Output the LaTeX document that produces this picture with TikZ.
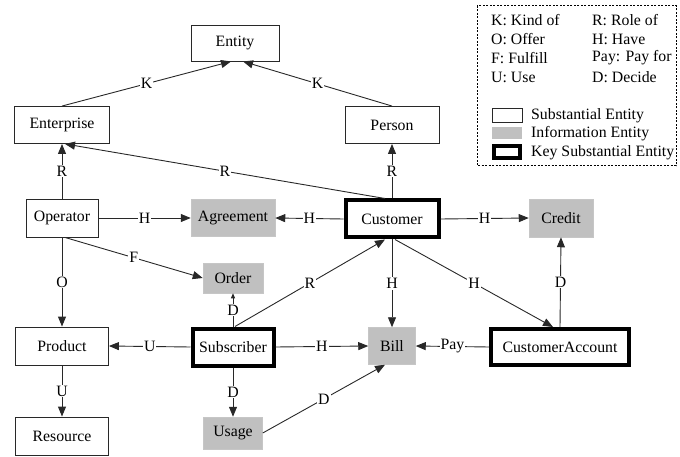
\documentclass[tikz,border=0pt]{standalone}
\usepackage{fontspec}
\setmainfont{Liberation Serif}
\usepackage{tikz}
\usetikzlibrary{arrows.meta, positioning, calc}
\usepackage{xcolor}
\definecolor{InfoGray}{RGB}{192,192,192}
\definecolor{LineGray}{RGB}{40,40,40}

\tikzset{
  ent/.style={draw=LineGray, fill=white, line width=0.9pt, inner sep=2pt},
  info/.style={draw=InfoGray!90, fill=InfoGray, line width=0.5pt, inner sep=2pt},
  keyent/.style={draw=black, fill=white, line width=4pt, inner sep=2pt},
  rel/.style={draw=LineGray, line width=0.9pt, -{Triangle[length=10pt,width=8pt]}},
  lbl/.style={fill=white, inner sep=1pt, midway}
}

\begin{document}
\begin{tikzpicture}[x=1pt, y=-1pt, font=\fontsize{15.8}{18}\selectfont]
  \useasboundingbox (0,0) rectangle (680,457);

  % entities
  \node[ent, minimum width=88pt, minimum height=36pt] (entity) at (235,43) {Entity};
  \node[ent, minimum width=95pt, minimum height=37pt] (entp) at (62,125) {Enterprise};
  \node[ent, minimum width=94pt, minimum height=37pt] (person) at (392,125) {Person};
  \node[ent, minimum width=72pt, minimum height=38pt] (oper) at (62,218) {Operator};
  \node[info, minimum width=84pt, minimum height=37pt] (agree) at (233,218) {Agreement};
  \node[info, minimum width=60pt, minimum height=30pt] (order) at (233,278) {Order};
  \node[keyent, minimum width=93pt, minimum height=37pt] (cust) at (392,219) {Customer};
  \node[info, minimum width=64pt, minimum height=38pt] (credit) at (561,218) {Credit};
  \node[ent, minimum width=93pt, minimum height=38pt] (prod) at (62,346) {Product};
  \node[keyent, minimum width=81pt, minimum height=37pt] (subs) at (233,347) {Subscriber};
  \node[info, minimum width=47pt, minimum height=37pt] (bill) at (392,346) {Bill};
  \node[keyent, minimum width=138pt, minimum height=36pt] (custacc) at (560,347) {CustomerAccount};
  \node[ent, minimum width=93pt, minimum height=38pt] (res) at (62,436) {Resource};
  \node[info, minimum width=59pt, minimum height=32pt] (usage) at (233,433) {Usage};

  % relations
  \draw[rel] (entp.north) -- node[lbl] {K} ([xshift=-4pt]entity.south);
  \draw[rel] (person.north) -- node[lbl] {K} ([xshift=8pt]entity.south);
  \draw[rel] (oper.north) -- node[lbl] {R} (entp.south);
  \draw[rel] ([xshift=-7pt]cust.north) -- node[lbl] {R} ([xshift=3pt]entp.south);
  \draw[rel] (cust.north) -- node[lbl] {R} (person.south);
  \draw[rel] (oper.east) -- node[lbl] {H} (agree.west);
  \draw[rel] (cust.west) -- node[lbl] {H} (agree.east);
  \draw[rel] (cust.east) -- node[lbl] {H} (credit.west);
  \draw[rel] ([xshift=3pt]oper.south) -- node[lbl] {F} (order.west);
  \draw[rel] (oper.south) -- node[lbl] {O} (prod.north);
  \draw[rel, -{Triangle[length=5pt,width=4pt]}] (subs.north) -- node[lbl] {D} (order.south);
  \draw[rel] ([xshift=2pt]subs.north) -- node[lbl] {R} ([xshift=-7pt]cust.south);
  \draw[rel] (cust.south) -- node[lbl] {H} (bill.north);
  \draw[rel] ([xshift=3pt]cust.south) -- node[lbl] {H} ([xshift=-7pt]custacc.north);
  \draw[rel] (custacc.north) -- node[lbl] {D} (credit.south);
  \draw[rel] (subs.west) -- node[lbl] {U} (prod.east);
  \draw[rel] (subs.east) -- node[lbl] {H} (bill.west);
  \draw[rel] (custacc.west) -- node[lbl] {Pay} (bill.east);
  \draw[rel] (prod.south) -- node[lbl] {U} (res.north);
  \draw[rel] (subs.south) -- node[lbl] {D} (usage.north);
  \draw[rel] (usage.east) -- node[lbl] {D} ([xshift=-7pt]bill.south);

  % legend
  \draw[black, line width=1pt, dash pattern=on 2pt off 1.5pt] (477,6) rectangle (676,166);
  \node[anchor=west, inner sep=0pt] (keyK) at (491,20) {K: Kind of};
  \node[anchor=west, inner sep=0pt] (keyO) at (491,39) {O: Offer};
  \node[anchor=west, inner sep=0pt] (keyF) at (491,58) {F: Fulfill};
  \node[anchor=west, inner sep=0pt] (keyU) at (491,77) {U: Use};
  \node[anchor=west, inner sep=0pt] (keyR) at (592,20) {R: Role of};
  \node[anchor=west, inner sep=0pt] (keyH) at (592,39) {H: Have};
  \node[anchor=west, inner sep=0pt] (keyPay) at (592,58) {Pay: Pay for};
  \node[anchor=west, inner sep=0pt] (keyD) at (592,77) {D: Decide};
  \draw[LineGray, line width=0.9pt, fill=white] (492,108) rectangle (522,122);
  \fill[InfoGray] (492,127) rectangle (522,139);
  \draw[black, line width=3.5pt] (494,146) rectangle (520,158);
  \node[anchor=west, inner sep=0pt] (keySub) at (531,116) {Substantial Entity};
  \node[anchor=west, inner sep=0pt] (keyInfo) at (531,134) {Information Entity};
  \node[anchor=west, inner sep=0pt] (keyKey) at (531,153) {Key Substantial Entity};
\end{tikzpicture}
\end{document}
